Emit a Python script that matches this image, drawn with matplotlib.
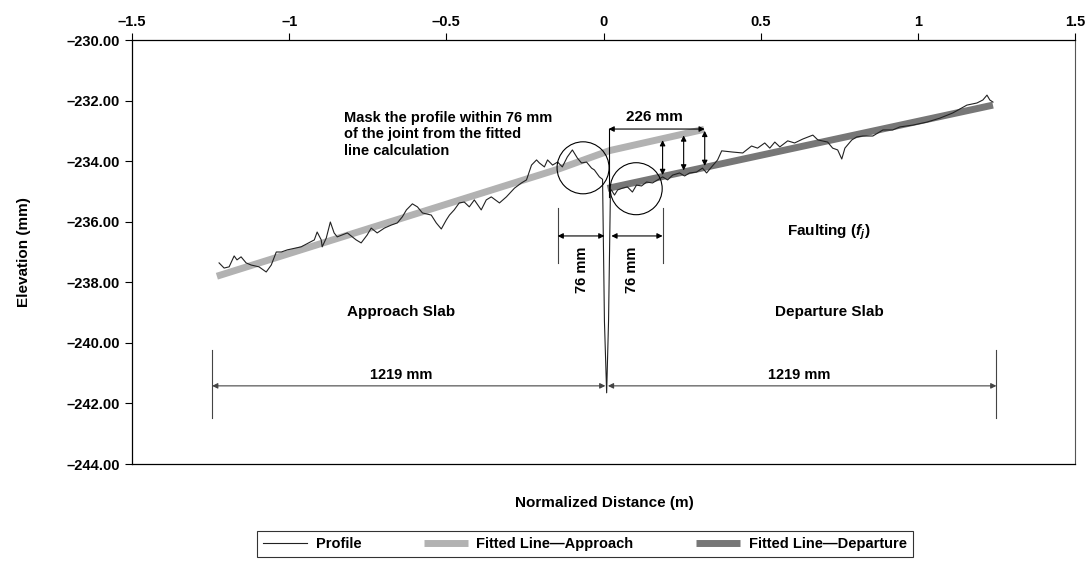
import numpy as np
import matplotlib
matplotlib.use("Agg")
import matplotlib.pyplot as plt
from matplotlib.patches import Ellipse
from matplotlib.ticker import FuncFormatter, FixedLocator

plt.rcParams['font.family'] = ['Liberation Sans', 'DejaVu Sans']
plt.rcParams['font.weight'] = 'bold'
plt.rcParams['axes.labelweight'] = 'bold'
plt.rcParams['mathtext.fontset'] = 'custom'
plt.rcParams['mathtext.it'] = 'Liberation Sans:italic:bold'
plt.rcParams['mathtext.rm'] = 'Liberation Sans:bold'

# measured profile (normalized distance m, elevation mm)
prof_x = [-1.223, -1.207, -1.191, -1.175, -1.166, -1.153, -1.137, -1.121, -1.096, -1.073,
          -1.057, -1.041, -1.025, -1.006, -0.962, -0.920, -0.911, -0.898, -0.895, -0.882,
          -0.869, -0.857, -0.847, -0.815, -0.787, -0.771, -0.752, -0.739, -0.720, -0.697,
          -0.675, -0.656, -0.640, -0.627, -0.608, -0.592, -0.576, -0.548, -0.532, -0.516,
          -0.500, -0.490, -0.475, -0.459, -0.443, -0.427, -0.411, -0.389, -0.373, -0.357,
          -0.331, -0.309, -0.283, -0.261, -0.245, -0.229, -0.213, -0.204, -0.188, -0.178,
          -0.162, -0.146, -0.131, -0.115, -0.099, -0.083, -0.070, -0.054, -0.038, -0.029,
          -0.013, -0.003, 0.003, 0.010, 0.016, 0.022, 0.025, 0.035, 0.045, 0.061,
          0.076, 0.092, 0.105, 0.121, 0.137, 0.156, 0.172, 0.188, 0.204, 0.220,
          0.242, 0.258, 0.274, 0.296, 0.315, 0.328, 0.344, 0.363, 0.376, 0.411,
          0.443, 0.471, 0.490, 0.513, 0.529, 0.545, 0.561, 0.586, 0.608, 0.634,
          0.666, 0.682, 0.713, 0.729, 0.745, 0.758, 0.768, 0.790, 0.806, 0.825,
          0.857, 0.889, 0.920, 0.943, 0.984, 1.029, 1.070, 1.111, 1.156, 1.188,
          1.207, 1.220, 1.229, 1.239]
prof_y = [-237.36, -237.53, -237.49, -237.13, -237.26, -237.16, -237.36, -237.43, -237.49, -237.66,
          -237.43, -237.00, -237.00, -236.93, -236.83, -236.60, -236.34, -236.60, -236.83, -236.54,
          -236.01, -236.37, -236.50, -236.37, -236.60, -236.70, -236.44, -236.21, -236.37, -236.21,
          -236.11, -236.04, -235.84, -235.61, -235.41, -235.51, -235.71, -235.78, -236.04, -236.24,
          -235.94, -235.78, -235.61, -235.38, -235.35, -235.51, -235.28, -235.61, -235.28, -235.18,
          -235.38, -235.18, -234.89, -234.72, -234.62, -234.13, -233.96, -234.06, -234.19, -233.96,
          -234.13, -234.03, -234.19, -233.86, -233.63, -233.90, -234.06, -234.03, -234.23, -234.29,
          -234.52, -234.60, -239.30, -241.65, -239.30, -235.00, -234.95, -235.12, -234.95, -234.89,
          -234.85, -235.02, -234.79, -234.82, -234.69, -234.72, -234.62, -234.52, -234.62, -234.46,
          -234.39, -234.49, -234.39, -234.36, -234.23, -234.39, -234.19, -233.96, -233.66, -233.70,
          -233.73, -233.50, -233.57, -233.40, -233.57, -233.37, -233.53, -233.33, -233.40, -233.27,
          -233.14, -233.30, -233.37, -233.57, -233.63, -233.93, -233.57, -233.30, -233.20, -233.17,
          -233.17, -232.97, -232.97, -232.87, -232.81, -232.71, -232.58, -232.41, -232.15, -232.08,
          -231.98, -231.82, -231.98, -232.05]

# fitted lines
appr_x = [-1.23, -0.14, 0.02, 0.32]
appr_y = [-237.80, -234.25, -233.65, -232.95]
dep_x = [0.013, 1.239]
dep_y = [-234.90, -232.15]

x_ticks = [-1.5, -1, -0.5, 0, 0.5, 1, 1.5]
y_ticks = [-230, -232, -234, -236, -238, -240, -242, -244]

FS = 10.5

W, H = 1086, 567
fig = plt.figure(figsize=(W / 100, H / 100), dpi=100)
ax = fig.add_axes([132 / W, 1 - 464 / H, (1075 - 132) / W, (464 - 40) / H])
ax.set_xlim(-1.5, 1.5)
ax.set_ylim(-244, -230)

ax.plot(appr_x, appr_y, color='#b2b2b2', lw=5, solid_capstyle='butt', zorder=2,
        label='Fitted Line\u2014Approach')
ax.plot(dep_x, dep_y, color='#777777', lw=5, solid_capstyle='butt', zorder=2,
        label='Fitted Line\u2014Departure')
ax.plot(prof_x, prof_y, color='#222222', lw=0.8, zorder=3, label='Profile')

# circles marking the masked zone
px_x = (1075 - 132) / 3.0
px_y = (464 - 40) / 14.0
r_px = 26
for cx, cy in [(-0.065, -234.22), (0.104, -234.91)]:
    ax.add_patch(Ellipse((cx, cy), 2 * r_px / px_x, 2 * r_px / px_y, fill=False,
                         ec='black', lw=0.8, zorder=4))

arr = dict(arrowstyle='<|-|>', color='black', lw=0.8, mutation_scale=8,
           shrinkA=0, shrinkB=0)
arr_g = dict(arr, color='#444444')

def dim(x0, y0, x1, y1, props=arr):
    ax.annotate('', xy=(x1, y1), xytext=(x0, y0), arrowprops=props, zorder=5)

# 1219 mm dimensions
y_long = -241.42
for xe in [-1.245, 1.25]:
    ax.plot([xe, xe], [-240.23, -242.48], color='#444444', lw=0.8)
dim(-1.245, y_long, 0.006, y_long, arr_g)
dim(0.014, y_long, 1.25, y_long, arr_g)
ax.text(-0.643, -241.06, '1219 mm', ha='center', va='center', fontsize=FS)
ax.text(0.624, -241.06, '1219 mm', ha='center', va='center', fontsize=FS)

# 76 mm dimensions
y76 = -236.47
for xe in [-0.146, 0.188]:
    ax.plot([xe, xe], [-235.55, -237.36], color='#444444', lw=0.8)
dim(-0.146, y76, 0.003, y76)
dim(0.025, y76, 0.188, y76)
ax.text(-0.067, -237.6, '76 mm', rotation=90, ha='center', va='center', fontsize=FS)
ax.text(0.092, -237.6, '76 mm', rotation=90, ha='center', va='center', fontsize=FS)

# 226 mm and faulting offsets
y226 = -232.94
ax.plot([0.016, 0.016], [y226, -235.2], color='black', lw=0.8)
dim(0.016, y226, 0.322, y226)
ax.text(0.162, -232.54, '226 mm', ha='center', va='center', fontsize=FS + 0.5)
for xf in [0.188, 0.255, 0.322]:
    ya = np.interp(xf, appr_x, appr_y)
    yd = np.interp(xf, dep_x, dep_y)
    dim(xf, ya - 0.05, xf, yd + 0.05)

ax.text(-0.825, -232.35, 'Mask the profile within 76 mm\nof the joint from the fitted\nline calculation',
        ha='left', va='top', fontsize=FS, linespacing=1.2)
ax.text(0.583, -236.34, r'Faulting ($f_j$)', ha='left', va='center', fontsize=FS + 0.5)
ax.text(-0.643, -238.98, 'Approach Slab', ha='center', va='center', fontsize=FS + 0.5)
ax.text(0.72, -238.98, 'Departure Slab', ha='center', va='center', fontsize=FS + 0.5)

# axes styling
ax.xaxis.tick_top()
ax.xaxis.set_major_locator(FixedLocator(x_ticks))
ax.yaxis.set_major_locator(FixedLocator(y_ticks))
ax.xaxis.set_major_formatter(FuncFormatter(lambda v, p: f"{v:g}".replace('-', '\u2013')))
ax.yaxis.set_major_formatter(FuncFormatter(lambda v, p: f"{v:.2f}".replace('-', '\u2013')))
ax.tick_params(axis='both', direction='out', length=5, width=0.8, labelsize=FS, colors='black')
ax.tick_params(axis='x', pad=3)
for side in ['left', 'top', 'bottom']:
    ax.spines[side].set_linewidth(0.9)
ax.spines['right'].set_color('#555555')

ax.set_ylabel('Elevation (mm)', fontsize=FS + 0.5, fontweight='bold', labelpad=26)
fig.text(604 / W, 1 - 503 / H, 'Normalized Distance (m)', ha='center', va='center',
         fontsize=FS + 0.5, fontweight='bold')

h, l = ax.get_legend_handles_labels()
order = [2, 0, 1]
leg = fig.legend([h[i] for i in order], [l[i] for i in order], loc='center',
                 bbox_to_anchor=(585 / W, 1 - 544 / H), ncol=3, fontsize=FS,
                 frameon=True, fancybox=False, edgecolor='black', handlelength=3.0,
                 columnspacing=4.3, borderpad=0.4, handletextpad=0.6)
leg.get_frame().set_linewidth(0.8)
for lh in leg.get_lines():
    if lh.get_linewidth() > 2:
        lh.set_linewidth(5)

fig.savefig('out.png', dpi=100)
